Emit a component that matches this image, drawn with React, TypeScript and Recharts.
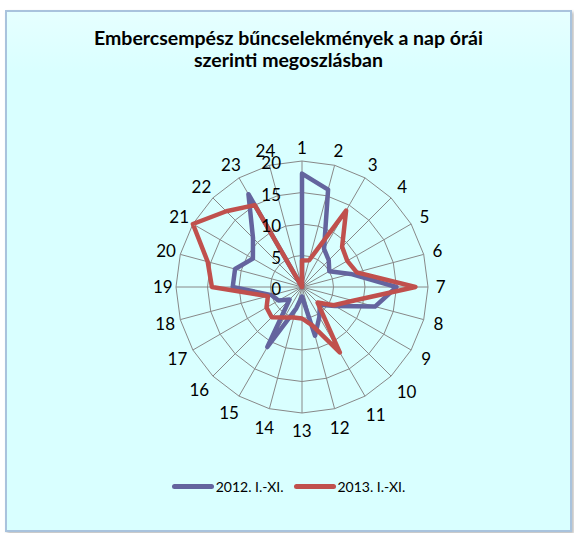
import { Legend, PolarAngleAxis, PolarGrid, PolarRadiusAxis, Radar, RadarChart } from "recharts";

const hours = ["1", "2", "3", "4", "5", "6", "7", "8", "9", "10", "11", "12", "13", "14", "15", "16", "17", "18", "19", "20", "21", "22", "23", "24"];
const cases2012 = [18, 16, 7, 6, 5, 8, 15, 12, 6, 4, 5.5, 8, 1.5, 3.5, 11, 2.8, 4.3, 5, 11, 11, 9, 11, 17, 0];
const cases2013 = [4.2, 4.4, 14, 9, 8.3, 9, 18, 8.4, 5.8, 3.5, 12, 6.3, 5, 5, 5.6, 6.8, 6.5, 5.6, 14.3, 15.5, 20, 17, 15, 0];
const seriesNames = ["2012. I.-XI.", "2013. I.-XI."];
const seriesColors = ["#64649e", "#c0504d"];

const data = hours.map((hour, i) => ({ hour, y2012: cases2012[i], y2013: cases2013[i] }));

const CX = 297;
const CY = 277;
const R = 126;
const FONT = "Lato, 'Open Sans', sans-serif";

function AngleTick(props: any) {
  const { x, y, payload } = props;
  const dx = x - CX;
  const dy = y - CY;
  const len = Math.hypot(dx, dy) || 1;
  const ux = dx / len;
  const uy = dy / len;
  const label = String(payload.value);
  const w = label.length * 9;
  const d = R + 6 + (w / 2) * Math.abs(ux) + 9.5 * Math.abs(uy);
  return (
    <text x={CX + ux * d} y={CY + uy * d} textAnchor="middle" dominantBaseline="central" fontSize={17} fontFamily={FONT} fill="#000">
      {label}
    </text>
  );
}

function RadiusTick(props: any) {
  const { x, y, payload } = props;
  return (
    <text x={x - 21} y={y + 1.5} textAnchor="end" dominantBaseline="central" fontSize={17} fontFamily={FONT} fill="#000">
      {payload.value}
    </text>
  );
}

function LegendRow() {
  return (
    <div style={{ display: "flex", justifyContent: "center", alignItems: "center", fontFamily: FONT, fontSize: 14 }}>
      {seriesNames.map((name, i) => (
        <div key={name} style={{ display: "flex", alignItems: "center", marginLeft: i ? 10 : 0 }}>
          <span style={{ display: "inline-block", width: 42, height: 5, borderRadius: 3, background: seriesColors[i], marginRight: 2 }} />
          <span>{name}</span>
        </div>
      ))}
    </div>
  );
}

export default function App() {
  return (
    <div
      style={{
        position: "absolute",
        left: 5,
        top: 10,
        width: 563,
        height: 518,
        background: "linear-gradient(#e6ffff, #d9ffff 12%, #d9ffff)",
        border: "2px solid #a9c3dd",
        boxShadow: "2px 2px 3px rgba(0,0,0,0.25)",
      }}
    >
      <div
        style={{
          position: "absolute",
          top: 15,
          left: 0,
          width: 563,
          textAlign: "center",
          fontFamily: FONT,
          fontWeight: 700,
          fontSize: 19.5,
          lineHeight: "22px",
        }}
      >
        Embercsempész bűncselekmények a nap órái
        <br />
        szerinti megoszlásban
      </div>
      <RadarChart width={563} height={518} data={data} cx={CX - 2} cy={CY - 2} outerRadius={R} style={{ position: "absolute", left: 0, top: 0 }}>
        <PolarGrid stroke="#888888" gridType="polygon" />
        <PolarAngleAxis dataKey="hour" tick={<AngleTick />} tickLine={false} axisLine={false} />
        <PolarRadiusAxis angle={90} domain={[0, 20]} tickCount={5} axisLine={false} tick={<RadiusTick />} />
        <Radar
          name={seriesNames[0]}
          dataKey="y2012"
          stroke={seriesColors[0]}
          strokeWidth={4.5}
          strokeLinejoin="round"
          fill="none"
          fillOpacity={0}
          dot={false}
          isAnimationActive={false}
        />
        <Radar
          name={seriesNames[1]}
          dataKey="y2013"
          stroke={seriesColors[1]}
          strokeWidth={4.5}
          strokeLinejoin="round"
          fill="none"
          fillOpacity={0}
          dot={false}
          isAnimationActive={false}
        />
        <Legend content={<LegendRow />} wrapperStyle={{ position: "absolute", top: 466, left: 0, width: 563 }} />
      </RadarChart>
    </div>
  );
}
